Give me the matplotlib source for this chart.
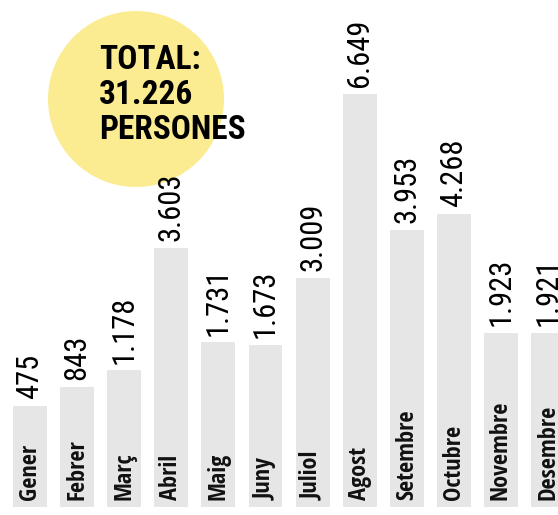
import matplotlib
matplotlib.use("Agg")
import matplotlib.pyplot as plt
from matplotlib.patches import Circle

# Data
months = ["Gener", "Febrer", "Març", "Abril", "Maig", "Juny", "Juliol",
          "Agost", "Setembre", "Octubre", "Novembre", "Desembre"]
persons = [475, 843, 1178, 3603, 1731, 1673, 3009, 6649, 3953, 4268, 1923, 1921]
total_lines = ["TOTAL:", "31.226", "PERSONES"]

BAR_COLOR = "#e6e6e6"
CIRCLE_COLOR = "#fbeb91"
VALUE_FONT = ["Roboto Condensed", "DejaVu Sans"]
MONTH_FONT = ["Open Sans Condensed", "DejaVu Sans"]
TOTAL_FONT = ["Roboto Condensed", "DejaVu Sans"]

# bars start below zero so the month names fit inside short bars
BASE = 1520
PX_PER_UNIT = 0.0506


def fmt(v):
    return f"{v:,}".replace(",", ".")


W, H = 558, 515
fig = plt.figure(figsize=(W / 100, H / 100), dpi=100)
fig.patch.set_facecolor("white")

# overlay in pixel coordinates for the yellow total badge (drawn underneath)
ov = fig.add_axes([0, 0, 1, 1])
ov.set_xlim(0, W)
ov.set_ylim(H, 0)
ov.axis("off")
ov.set_zorder(0)
ov.add_patch(Circle((136, 99), 88, color=CIRCLE_COLOR, linewidth=0))
ov.text(99, 44, "\n".join(total_lines), ha="left", va="top", fontsize=24,
        family=TOTAL_FONT, fontweight="bold", linespacing=1.12, color="black")

# main bar axes (pixel layout: bottom at y=507, bar pitch ~47px)
pitch = 47.1
first_center = 30
ax = fig.add_axes([0, 8 / H, 1, 507 / H])
ax.set_zorder(1)
ax.patch.set_alpha(0)
ax.set_xlim(-first_center / pitch, (W - first_center) / pitch)
ax.set_ylim(-BASE, 507 / PX_PER_UNIT - BASE)
ax.axis("off")

x = list(range(len(months)))
ax.bar(x, [v + BASE for v in persons], bottom=-BASE, width=0.72,
       color=BAR_COLOR, linewidth=0)

for xi, v, m in zip(x, persons, months):
    ax.annotate(fmt(v), (xi, v), xytext=(0, 5), textcoords="offset points",
                rotation=90, ha="center", va="bottom", fontsize=22,
                family=VALUE_FONT, color="black")
    ax.annotate(m, (xi, -BASE), xytext=(0, 5), textcoords="offset points",
                rotation=90, ha="center", va="bottom", fontsize=17.5,
                family=MONTH_FONT, fontweight="semibold", color="#111111")

fig.savefig("out.png", dpi=100)
